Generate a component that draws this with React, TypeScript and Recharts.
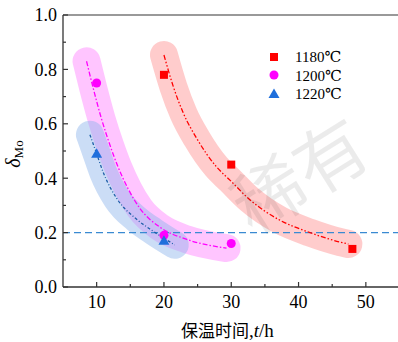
import React from "react";
import {
  ComposedChart,
  Line,
  Scatter,
  XAxis,
  YAxis,
  ReferenceLine,
} from "recharts";

// measured points
const pts1180 = [
  { x: 20, y: 0.78 },
  { x: 30, y: 0.45 },
  { x: 48, y: 0.14 },
];
const pts1200 = [
  { x: 10, y: 0.75 },
  { x: 20, y: 0.19 },
  { x: 30, y: 0.16 },
];
const pts1220 = [
  { x: 10, y: 0.49 },
  { x: 20, y: 0.17 },
];

// fitted curves
const fit1180 = [
  { x: 20.0, y: 0.853 },
  { x: 21.4, y: 0.736 },
  { x: 22.9, y: 0.638 },
  { x: 24.9, y: 0.545 },
  { x: 27.8, y: 0.442 },
  { x: 29.8, y: 0.393 },
  { x: 32.8, y: 0.32 },
  { x: 37.2, y: 0.246 },
  { x: 41.7, y: 0.2 },
  { x: 46.2, y: 0.165 },
  { x: 47.4, y: 0.158 },
];
const fit1200 = [
  { x: 8.5, y: 0.83 },
  { x: 9.5, y: 0.73 },
  { x: 10.7, y: 0.62 },
  { x: 12.0, y: 0.52 },
  { x: 13.2, y: 0.44 },
  { x: 14.7, y: 0.36 },
  { x: 16.4, y: 0.29 },
  { x: 19.4, y: 0.22 },
  { x: 23.4, y: 0.175 },
  { x: 29.3, y: 0.143 },
];
const fit1220 = [
  { x: 9.0, y: 0.56 },
  { x: 10.0, y: 0.49 },
  { x: 11.0, y: 0.42 },
  { x: 13.0, y: 0.325 },
  { x: 15.9, y: 0.25 },
  { x: 18.4, y: 0.205 },
  { x: 21.6, y: 0.155 },
];

const xTicks = [10, 15, 20, 25, 30, 35, 40, 45, 50];
const yTicks = [0, 0.1, 0.2, 0.3, 0.4, 0.5, 0.6, 0.7, 0.8, 0.9, 1.0];
const legendItems = ["1180℃", "1200℃", "1220℃"];

const SERIF = { fontFamily: '"Liberation Serif", "DejaVu Serif", serif' };
const CJK = { fontFamily: '"Noto Sans CJK SC", sans-serif' };
const AXIS = "#333";

const XTick = (props: any) => {
  const { x, y, payload } = props;
  const major = payload.value % 10 === 0;
  return (
    <g>
      <line x1={x} x2={x} y1={y} y2={y - (major ? 5 : 3)} stroke={AXIS} strokeWidth={1.2} />
      {major && (
        <text x={x} y={y + 21} textAnchor="middle" style={SERIF} fontSize={18} fill="#000">
          {payload.value}
        </text>
      )}
    </g>
  );
};

const YTick = (props: any) => {
  const { x, y, payload } = props;
  const major = Math.round(payload.value * 10) % 2 === 0;
  return (
    <g>
      <line x1={x} x2={x + (major ? 5 : 3)} y1={y} y2={y} stroke={AXIS} strokeWidth={1.2} />
      {major && (
        <text x={x - 6} y={y} dy="0.35em" textAnchor="end" style={SERIF} fontSize={18} fill="#000">
          {payload.value.toFixed(1)}
        </text>
      )}
    </g>
  );
};

const Square = (p: any) => <rect x={p.cx - 4} y={p.cy - 4} width={8} height={8} fill="#ff0000" />;
const Dot = (p: any) => <circle cx={p.cx} cy={p.cy} r={4.5} fill="#ff00ff" />;
const Tri = (p: any) => (
  <path d={`M${p.cx},${p.cy - 5.5} L${p.cx + 5.5},${p.cy + 4} L${p.cx - 5.5},${p.cy + 4} Z`} fill="#1f6fdc" />
);

export default function App() {
  return (
    <div style={{ position: "fixed", left: 0, top: 0, width: 398, height: 342, overflow: "hidden", background: "#fff" }}>
      <ComposedChart width={400} height={342} margin={{ top: 15, right: 0.5, bottom: 0, left: 0 }}>
        <XAxis
          type="number"
          dataKey="x"
          domain={[5, 55]}
          ticks={xTicks}
          tickSize={0}
          tickMargin={0}
          height={55}
          tick={<XTick />}
          axisLine={{ stroke: AXIS, strokeWidth: 1.3 }}
          tickLine={false}
          allowDataOverflow
        />
        <YAxis
          type="number"
          dataKey="y"
          domain={[0, 1]}
          ticks={yTicks}
          tickSize={0}
          tickMargin={0}
          width={63}
          tick={<YTick />}
          axisLine={{ stroke: AXIS, strokeWidth: 1.3 }}
          tickLine={false}
          allowDataOverflow
        />
        <ReferenceLine y={1} stroke="#777" strokeWidth={1.5} />

        {/* translucent bands */}
        <Line data={fit1180} dataKey="y" type="monotone" stroke="#ff9a9a" strokeOpacity={0.5} strokeWidth={28} strokeLinecap="round" dot={false} isAnimationActive={false} />
        <Line data={fit1200} dataKey="y" type="monotone" stroke="#ff8cff" strokeOpacity={0.5} strokeWidth={28} strokeLinecap="round" dot={false} isAnimationActive={false} />
        <Line data={fit1220} dataKey="y" type="monotone" stroke="#8cb4eb" strokeOpacity={0.45} strokeWidth={28} strokeLinecap="round" dot={false} isAnimationActive={false} />

        <ReferenceLine y={0.2} stroke="#3a8ad2" strokeWidth={1.3} strokeDasharray="7 4" />

        {/* fitted curves */}
        <Line data={fit1180} dataKey="y" type="monotone" stroke="#ff0000" strokeWidth={1.3} strokeDasharray="5 2 1.5 2 1.5 2" dot={false} isAnimationActive={false} />
        <Line data={fit1200} dataKey="y" type="monotone" stroke="#ff00ff" strokeWidth={1.3} strokeDasharray="5 2 1.5 2" dot={false} isAnimationActive={false} />
        <Line data={fit1220} dataKey="y" type="monotone" stroke="#1f5fa8" strokeWidth={1.3} strokeDasharray="3 2 1 2" dot={false} isAnimationActive={false} />

        <Scatter data={pts1180} dataKey="y" shape={<Square />} isAnimationActive={false} />
        <Scatter data={pts1200} dataKey="y" shape={<Dot />} isAnimationActive={false} />
        <Scatter data={pts1220} dataKey="y" shape={<Tri />} isAnimationActive={false} />
      </ComposedChart>

      <svg width={398} height={342} style={{ position: "absolute", left: 0, top: 0, pointerEvents: "none" }}>
        <text
          x={314}
          y={198}
          textAnchor="middle"
          style={CJK}
          fontSize={72}
          fill="#000"
          fillOpacity={0.08}
          transform="rotate(-32 314 198)"
        >
          稀有
        </text>

        {/* legend */}
        <rect x={270} y={53} width={8} height={8} fill="#ff0000" />
        <circle cx={274} cy={75} r={4.5} fill="#ff00ff" />
        <path d="M274,88.5 L279.5,98 L268.5,98 Z" fill="#1f6fdc" />
        {legendItems.map((t, i) => (
          <text key={t} x={295} y={57 + i * 18.5} dy="0.35em" style={SERIF} fontSize={15} fill="#000">
            {t}
          </text>
        ))}

        {/* axis titles */}
        <text x={181} y={337} style={CJK} fontSize={17} fill="#000">
          保温时间<tspan style={SERIF} fontSize={19}>,</tspan>
          <tspan style={SERIF} fontSize={19} fontStyle="italic">t</tspan>
          <tspan style={SERIF} fontSize={19}>/h</tspan>
        </text>
        <text transform="rotate(-90 20 154)" x={20} y={154} textAnchor="middle" style={SERIF} fill="#000">
          <tspan fontSize={20} fontStyle="italic">δ</tspan>
          <tspan fontSize={13} dy={3}>Mo</tspan>
        </text>
      </svg>
    </div>
  );
}
